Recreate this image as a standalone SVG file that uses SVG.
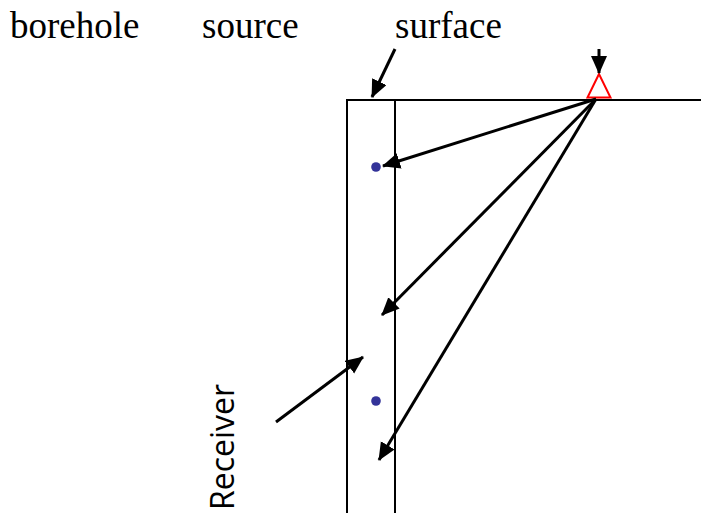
<svg xmlns="http://www.w3.org/2000/svg" width="701" height="513" viewBox="0 0 701 513">
<style>
.lbl{font-family:"Liberation Serif","Times New Roman",serif;font-size:37px;fill:#000}
.sans{font-family:"Open Sans","Liberation Sans",Arial,sans-serif;font-size:32px;fill:#000}
.ln{stroke:#000;stroke-width:2;fill:none}
.ar{stroke:#000;stroke-width:3;fill:none;marker-end:url(#ah)}
.dot{fill:#333399}
</style>
<defs>
<marker id="ah" markerUnits="userSpaceOnUse" markerWidth="20" markerHeight="18" refX="17" refY="8" orient="auto" viewBox="0 0 20 18">
<path d="M0,0 L18,8 L0,16 z" fill="#000"/>
</marker>
</defs>
<g id="labels">
<text class="lbl" x="10" y="38">borehole</text>
<text class="lbl" x="202" y="38">source</text>
<text class="lbl" x="395" y="38">surface</text>
<text class="sans" transform="translate(234,510) rotate(-90)">Receiver</text>
</g>
<g id="ground">
<line class="ln" x1="347" y1="100" x2="701" y2="100"/>
<line class="ln" x1="347" y1="99" x2="347" y2="513"/>
<line class="ln" x1="395" y1="100" x2="395" y2="513"/>
</g>
<g id="source">
<polygon points="599,74 587.5,97.5 610.5,97.5" fill="none" stroke="#ff0000" stroke-width="2"/>
</g>
<g id="receivers">
<circle class="dot" cx="376" cy="167" r="4.8"/>
<circle class="dot" cx="376" cy="401" r="4.8"/>
</g>
<g id="connectors">
<line class="ar" x1="599" y1="49" x2="599" y2="73"/>
<line class="ar" x1="395" y1="49" x2="372" y2="97"/>
<line class="ar" x1="596" y1="99" x2="383" y2="166"/>
<line class="ar" x1="596" y1="99" x2="382" y2="315"/>
<line class="ar" x1="596" y1="99" x2="379" y2="460"/>
<line class="ar" x1="276" y1="422" x2="363" y2="357"/>
</g>
</svg>
